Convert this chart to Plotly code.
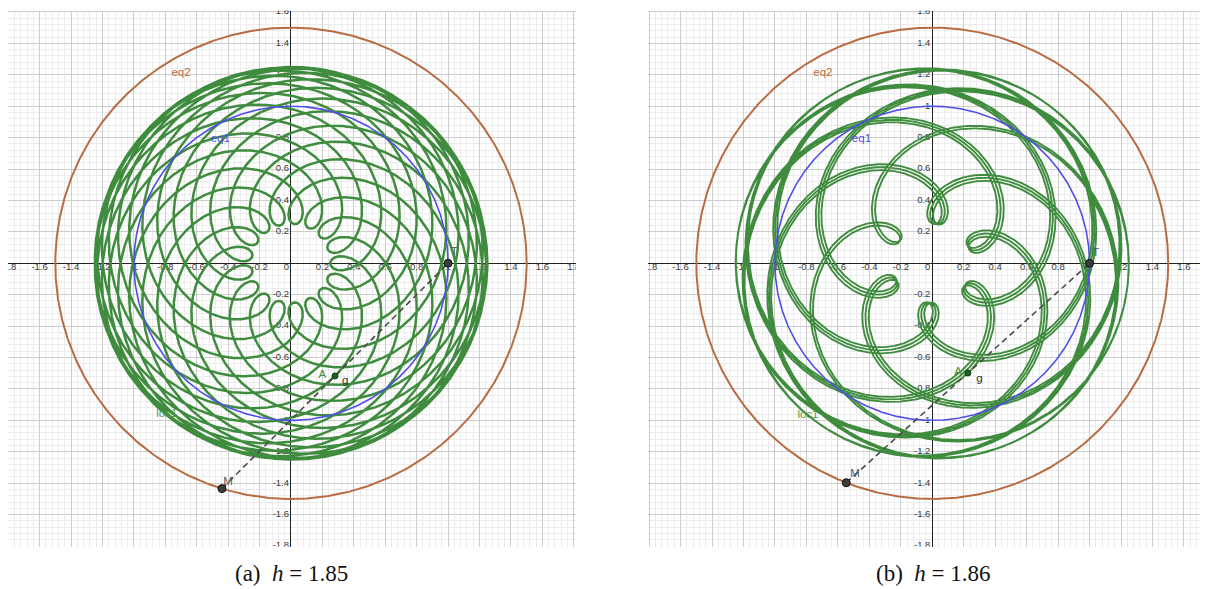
import numpy as np
import plotly.graph_objects as go

# ---- values ----
PANEL_TAGS = ["(a)", "(b)"]
H_CAPTIONS = [1.85, 1.86]        # h as printed under each view
H_VALUES = [1.85, 1.8583]        # slider value of h used by each view (shown rounded)
R_EQ1 = 1.0                      # radius of circle eq1 (T moves on it)
R_EQ2 = 1.5                      # radius of circle eq2 (M moves on it)
T_TURNS = 5                      # turns made by T in the shown state
LOCUS_TURNS = 20                 # turns of M traced by loc1
TICK_VALUES = [-1.8, -1.6, -1.4, -1.2, -1.0, -0.8, -0.6, -0.4, -0.2,
               0.2, 0.4, 0.6, 0.8, 1.0, 1.2, 1.4, 1.6, 1.8]
LABEL_NAMES = ["eq2", "eq1", "loc1", "T", "M", "A", "g"]
LABEL_POS_A = [(-0.70, 1.21), (-0.45, 0.79), (-0.79, -0.96), (1.04, 0.07),
               (-0.40, -1.39), (0.20, -0.71), (0.345, -0.75)]
LABEL_POS_B = [(-0.695, 1.21), (-0.45, 0.79), (-0.79, -0.965), (1.04, 0.065),
               (-0.49, -1.345), (0.165, -0.69), (0.30, -0.735)]

# ---- layout (page pixels of the reference; the page body adds an 8 px margin) ----
OFF = 8
W, H = 1200, 581
X_RANGES = [[-1.801, 1.814], [-1.807, 1.753]]
Y_RANGE = [-1.804, 1.609]
X_DOMAINS = [[(8 - OFF) / W, (576 - OFF) / W], [(648 - OFF) / W, 1.0]]
Y_DOMAIN = [1 - (546.7 - OFF) / H, 1 - (10.5 - OFF) / H]
CAPTION_X = [291.7, 933]
CAPTION_Y = 573

GREEN = "#3f8c3f"
BLUE = "#4f4fe8"
BROWN = "#b86c42"
LABEL_COLORS = [BROWN, BLUE, "#4f9a4f", "#555555", "#555555", "#3f8c3f", "#333333"]
TICK_FONT = dict(family="Liberation Sans", size=9.5, color="#3a3a3a")

fig = go.Figure()


def fmt(v):
    return f"{v:g}"


for i, h in enumerate(H_VALUES):
    xa = "x" if i == 0 else "x2"
    ya = "y" if i == 0 else "y2"
    phi = np.linspace(0, 2 * np.pi, 900)

    # tick labels along the axes (GeoGebra style)
    fig.add_trace(go.Scatter(x=TICK_VALUES, y=[0] * len(TICK_VALUES), mode="text",
                             text=[fmt(v) for v in TICK_VALUES], textposition="bottom center",
                             textfont=TICK_FONT, xaxis=xa, yaxis=ya,
                             hoverinfo="skip", showlegend=False))
    fig.add_trace(go.Scatter(x=[-0.012] * len(TICK_VALUES), y=TICK_VALUES, mode="text",
                             text=[fmt(v) for v in TICK_VALUES], textposition="middle left",
                             textfont=TICK_FONT, xaxis=xa, yaxis=ya,
                             hoverinfo="skip", showlegend=False))
    fig.add_trace(go.Scatter(x=[-0.012], y=[0], mode="text", text=["0"],
                             textposition="bottom left", textfont=TICK_FONT,
                             xaxis=xa, yaxis=ya, hoverinfo="skip", showlegend=False))

    # eq2
    fig.add_trace(go.Scatter(x=R_EQ2 * np.cos(phi), y=R_EQ2 * np.sin(phi), mode="lines",
                             line=dict(color=BROWN, width=2), xaxis=xa, yaxis=ya,
                             hoverinfo="skip", showlegend=False))
    # loc1 : midpoint of M (on eq2) and T (on eq1), T turning h times as fast as M
    th = np.linspace(0, 2 * np.pi * LOCUS_TURNS, 40000)
    lx = 0.5 * (R_EQ2 * np.cos(th) + R_EQ1 * np.cos(h * th))
    ly = 0.5 * (R_EQ2 * np.sin(th) + R_EQ1 * np.sin(h * th))
    fig.add_trace(go.Scatter(x=lx, y=ly, mode="lines",
                             line=dict(color=GREEN, width=2.5 if i == 0 else 1.9),
                             xaxis=xa, yaxis=ya, hoverinfo="skip", showlegend=False))
    # eq1
    fig.add_trace(go.Scatter(x=R_EQ1 * np.cos(phi), y=R_EQ1 * np.sin(phi), mode="lines",
                             line=dict(color=BLUE, width=1.6), xaxis=xa, yaxis=ya,
                             hoverinfo="skip", showlegend=False))

    # current state of the construction
    t_ang = 2 * np.pi * T_TURNS
    m_ang = t_ang / h
    Tx, Ty = R_EQ1 * np.cos(t_ang), R_EQ1 * np.sin(t_ang)
    Mx, My = R_EQ2 * np.cos(m_ang), R_EQ2 * np.sin(m_ang)
    Ax, Ay = (Tx + Mx) / 2, (Ty + My) / 2
    fig.add_trace(go.Scatter(x=[Mx, Tx], y=[My, Ty], mode="lines",
                             line=dict(color="#4a4a4a", width=1.6, dash="6px,4px"),
                             xaxis=xa, yaxis=ya, hoverinfo="skip", showlegend=False))
    fig.add_trace(go.Scatter(x=[Tx, Mx], y=[Ty, My], mode="markers",
                             marker=dict(color="#3c3c3c", size=8, line=dict(color="#111111", width=1)),
                             xaxis=xa, yaxis=ya, hoverinfo="skip", showlegend=False))
    fig.add_trace(go.Scatter(x=[Ax], y=[Ay], mode="markers",
                             marker=dict(color="#1f5f1f", size=6, line=dict(color="#0d3d0d", width=1)),
                             xaxis=xa, yaxis=ya, hoverinfo="skip", showlegend=False))

    pos = LABEL_POS_A if i == 0 else LABEL_POS_B
    for name, (px, py), col in zip(LABEL_NAMES, pos, LABEL_COLORS):
        fig.add_trace(go.Scatter(x=[px], y=[py], mode="text", text=[name],
                                 textposition="middle center",
                                 textfont=dict(family="Liberation Sans", size=11.5, color=col),
                                 xaxis=xa, yaxis=ya, hoverinfo="skip", showlegend=False))

    fig.add_annotation(xref="paper", yref="paper",
                       x=(CAPTION_X[i] - OFF) / W, y=1 - (CAPTION_Y - OFF) / H,
                       xanchor="center", yanchor="middle", showarrow=False,
                       text=f"{PANEL_TAGS[i]}&nbsp;&nbsp;<i>h</i> = {H_CAPTIONS[i]:.2f}",
                       font=dict(family="Liberation Serif", size=23, color="#111111"))


def axis(domain, rng, anchor):
    return dict(domain=domain, range=rng, anchor=anchor,
                showgrid=True, gridcolor="#cdcdcd", gridwidth=1, tick0=0, dtick=0.2,
                minor=dict(tick0=0, dtick=0.04, showgrid=True, gridcolor="#ececec", gridwidth=1),
                zeroline=True, zerolinecolor="#222222", zerolinewidth=1,
                showticklabels=False, ticks="", showline=False, fixedrange=True)


fig.update_layout(
    width=W, height=H, margin=dict(l=0, r=0, t=0, b=0),
    paper_bgcolor="white", plot_bgcolor="white", showlegend=False,
    xaxis=axis(X_DOMAINS[0], X_RANGES[0], "y"),
    yaxis=axis(Y_DOMAIN, Y_RANGE, "x"),
    xaxis2=axis(X_DOMAINS[1], X_RANGES[1], "y2"),
    yaxis2=axis(Y_DOMAIN, Y_RANGE, "x2"),
)

fig.write_html("out.html")
